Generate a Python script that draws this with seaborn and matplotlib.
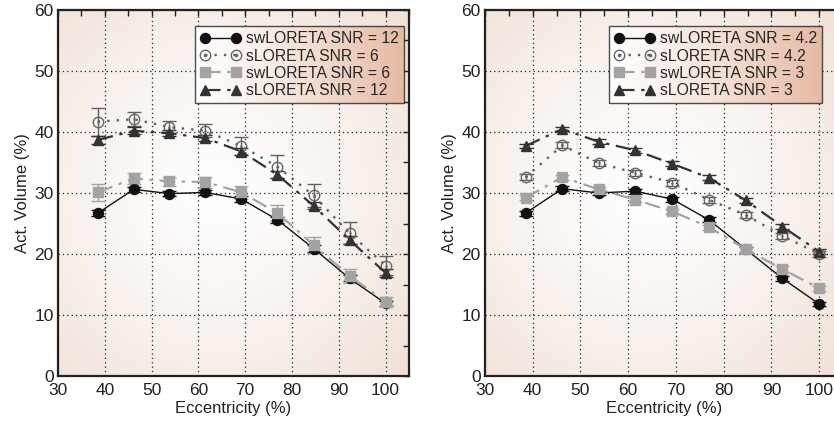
import numpy as np
import pandas as pd
import seaborn as sns
import matplotlib
matplotlib.use('Agg')
import matplotlib.pyplot as plt
from matplotlib.lines import Line2D
from matplotlib.legend_handler import HandlerTuple
from matplotlib.ticker import MultipleLocator

# eccentricity of the sources (%)
eccentricity = [38.5, 46.2, 53.8, 61.5, 69.2, 76.9, 84.6, 92.3, 100.0]

# left panel: SNR 12 / 6
left_labels = ['swLORETA SNR = 12', 'sLORETA SNR = 6', 'swLORETA SNR = 6', 'sLORETA SNR = 12']
left_sw12 = [26.7, 30.6, 29.9, 30.1, 29.0, 25.6, 20.9, 16.0, 11.9]
left_sw12_err = [0.5, 0.4, 0.4, 0.4, 0.5, 0.5, 0.5, 0.5, 0.4]
left_s6 = [41.7, 42.1, 40.8, 40.2, 37.7, 34.3, 29.6, 23.4, 18.1]
left_s6_err = [2.3, 1.1, 1.0, 1.1, 1.5, 1.9, 1.9, 1.8, 1.6]
left_sw6 = [30.1, 32.4, 31.9, 31.8, 30.1, 26.7, 21.5, 16.4, 12.2]
left_sw6_err = [1.4, 0.9, 0.8, 0.9, 1.1, 1.3, 1.3, 1.1, 0.7]
left_s12 = [38.7, 40.2, 39.8, 39.0, 36.8, 33.0, 27.9, 22.3, 16.9]
left_s12_err = [0.7, 0.6, 0.5, 0.5, 0.6, 0.6, 0.6, 0.6, 0.6]

# right panel: SNR 4.2 / 3
right_labels = ['swLORETA SNR = 4.2', 'sLORETA SNR = 4.2', 'swLORETA SNR = 3', 'sLORETA SNR = 3']
right_sw42 = [26.7, 30.7, 30.0, 30.3, 29.0, 25.6, 20.8, 16.0, 11.8]
right_sw42_err = [0.4, 0.4, 0.4, 0.4, 0.4, 0.4, 0.4, 0.4, 0.4]
right_s42 = [32.6, 37.8, 34.9, 33.3, 31.7, 28.9, 26.4, 23.0, 20.0]
right_s42_err = [0.5, 0.5, 0.5, 0.5, 0.5, 0.5, 0.5, 0.5, 0.5]
right_sw3 = [29.2, 32.6, 30.6, 28.9, 27.0, 24.4, 20.8, 17.5, 14.4]
right_sw3_err = [0.4, 0.4, 0.4, 0.4, 0.4, 0.4, 0.4, 0.5, 0.4]
right_s3 = [37.7, 40.5, 38.4, 37.0, 34.8, 32.5, 28.8, 24.5, 20.4]
right_s3_err = [0.4, 0.4, 0.4, 0.4, 0.4, 0.4, 0.4, 0.4, 0.4]

sns.set_style('white')
plt.rcParams['font.family'] = ['Liberation Sans', 'DejaVu Sans']
plt.rcParams['font.size'] = 12

# style per series (same order in both panels)
styles = [
    dict(color='#111111', ls='-', lw=1.0, marker='o', ms=7.2, mfc='#111111', mec='#111111'),
    dict(color='#606060', ls=(0, (1, 3)), lw=1.7, marker='o', ms=7.5, mfc='none', mec='#666666'),
    dict(color='#a3a3a3', ls=(0, (7, 3, 1.5, 3)), lw=1.6, marker='s', ms=6.5, mfc='#a3a3a3', mec='#a3a3a3'),
    dict(color='#333333', ls=(0, (7, 3, 1.5, 3)), lw=1.6, marker='^', ms=7.5, mfc='#333333', mec='#333333'),
]


def gradient(ax):
    yy, xx = np.mgrid[0:1:200j, 0:1:200j]
    r = np.sqrt(((xx - 0.45) / 0.75) ** 2 + ((yy - 0.5) / 0.75) ** 2)
    r = np.clip(r, 0, 1)
    c0 = np.array([1.0, 1.0, 1.0])
    c1 = np.array([0.94, 0.88, 0.84])
    img = c0 + (c1 - c0) * r[..., None] ** 1.3
    ax.imshow(img, extent=[0, 1, 0, 1], transform=ax.transAxes, aspect='auto',
              zorder=0, origin='lower')


def legend_gradient(fig, ax, leg):
    fig.canvas.draw()
    bb = leg.get_window_extent().transformed(ax.transAxes.inverted())
    xx = np.linspace(0, 1, 200)[None, :].repeat(20, 0)
    c0 = np.array([1.0, 1.0, 1.0])
    c1 = np.array([0.90, 0.73, 0.64])
    img = c0 + (c1 - c0) * (xx[..., None] ** 1.2)
    ax.imshow(img, extent=[bb.x0, bb.x1, bb.y0, bb.y1], transform=ax.transAxes,
              aspect='auto', zorder=4.9, clip_on=False)


def panel(ax, series, errors, labels, anchor):
    gradient(ax)
    handles = []
    for y, e, lab, st in zip(series, errors, labels, styles):
        df = pd.DataFrame({'ecc': eccentricity, 'vol': y})
        ax.errorbar(eccentricity, y, yerr=e, fmt='none', ecolor=st['color'],
                    elinewidth=1.0, capsize=5, capthick=1.0, zorder=3)
        sns.lineplot(data=df, x='ecc', y='vol', ax=ax, color=st['color'],
                     linestyle=st['ls'], linewidth=st['lw'], marker=st['marker'],
                     markersize=st['ms'], markerfacecolor=st['mfc'],
                     markeredgecolor=st['mec'], markeredgewidth=1.0, zorder=4)
        h = Line2D([], [], color=st['color'], linestyle=st['ls'], linewidth=st['lw'],
                   marker=st['marker'], markersize=st['ms'], markerfacecolor=st['mfc'],
                   markeredgecolor=st['mec'])
        if st['mfc'] == 'none':
            sns.scatterplot(data=df, x='ecc', y='vol', ax=ax, color=st['mec'],
                            s=3, linewidth=0, zorder=5)
            dot = Line2D([], [], linestyle='none', marker='o', markersize=1.6,
                         color=st['mec'])
            h = (h, dot)
        handles.append(h)

    ax.set_xlim(30, 105)
    ax.set_ylim(0, 60)
    ax.xaxis.set_major_locator(MultipleLocator(10))
    ax.xaxis.set_minor_locator(MultipleLocator(5))
    ax.yaxis.set_major_locator(MultipleLocator(10))
    ax.yaxis.set_minor_locator(MultipleLocator(5))
    ax.set_axisbelow(True)
    ax.grid(True, which='major', color='#222222', linestyle=(0, (1, 2.5)), linewidth=0.9)
    ax.tick_params(which='both', direction='in', top=True, right=True,
                   length=4.5, width=1.0, color='#222222', labelsize=12.5,
                   labelcolor='#222222')
    ax.tick_params(axis='x', pad=5)
    ax.tick_params(axis='y', pad=3)
    for s in ax.spines.values():
        s.set_linewidth(1.6)
        s.set_color('#222222')
    ax.set_xlabel('Eccentricity (%)', fontsize=12, color='#222222', labelpad=2.5)
    ax.set_ylabel('Act. Volume (%)', fontsize=12, color='#222222', labelpad=3)

    leg = ax.legend(handles, labels, loc='upper right', bbox_to_anchor=anchor,
                    borderaxespad=0, numpoints=2, handlelength=2.6, handletextpad=0.35,
                    labelspacing=0.15, borderpad=0.3, fontsize=11.3, fancybox=False,
                    handler_map={tuple: HandlerTuple(ndivide=1)})
    leg.get_frame().set_facecolor('none')
    leg.get_frame().set_edgecolor('#222222')
    leg.get_frame().set_linewidth(1.0)
    leg.set_zorder(5)
    return leg


fig = plt.figure(figsize=(8.34, 4.23), dpi=100)
ax1 = fig.add_axes([58 / 834, 47 / 423, 351 / 834, 366 / 423])
ax2 = fig.add_axes([485 / 834, 47 / 423, 358 / 834, 366 / 423])

leg1 = panel(ax1, [left_sw12, left_s6, left_sw6, left_s12],
             [left_sw12_err, left_s6_err, left_sw6_err, left_s12_err],
             left_labels, (0.985, 0.955))
leg2 = panel(ax2, [right_sw42, right_s42, right_sw3, right_s3],
             [right_sw42_err, right_s42_err, right_sw3_err, right_s3_err],
             right_labels, (0.942, 0.955))

legend_gradient(fig, ax1, leg1)
legend_gradient(fig, ax2, leg2)

fig.savefig('out.png', dpi=100)
